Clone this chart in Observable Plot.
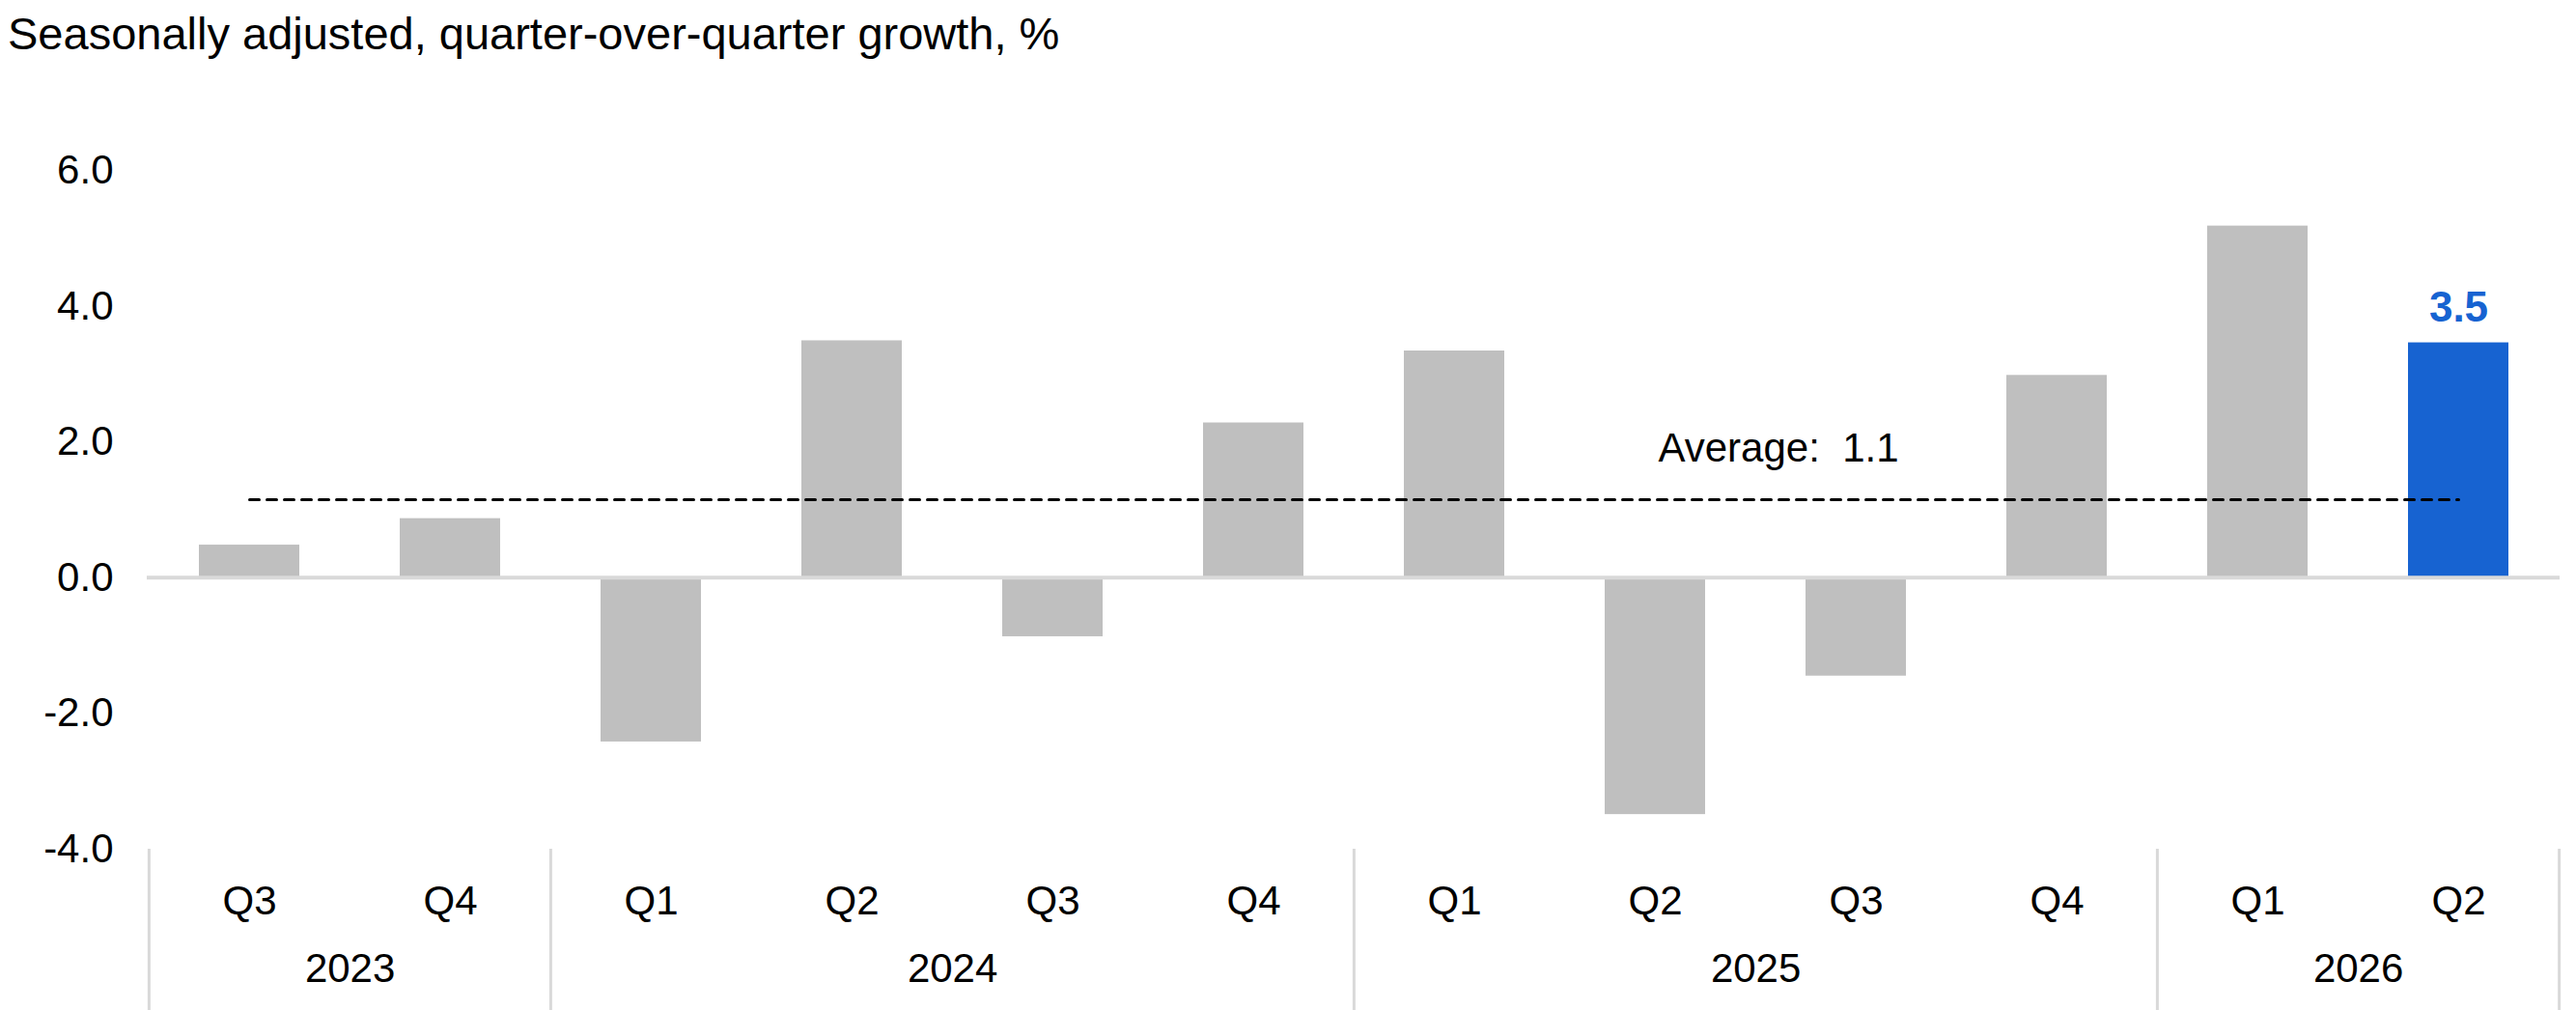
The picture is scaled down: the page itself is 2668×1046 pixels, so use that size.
<!DOCTYPE html>
<html><head><meta charset="utf-8">
<script src="https://cdn.jsdelivr.net/npm/d3@7"></script>
<script src="https://cdn.jsdelivr.net/npm/@observablehq/plot@0.6"></script>
<style>
body{margin:0;background:#fff;font-family:"Liberation Sans",Arial,sans-serif;}
#title{height:70px;font-size:47px;line-height:70px;padding-left:8px;color:#000;}
</style></head><body>
<div id="title">Seasonally adjusted, quarter-over-quarter growth, %</div>
<div id="chart"></div>
<script>
const quarters = ["Q3","Q4","Q1","Q2","Q3","Q4","Q1","Q2","Q3","Q4","Q1","Q2"];
const years = ["2023","2023","2024","2024","2024","2024","2025","2025","2025","2025","2026","2026"];
const values = [0.48,0.87,-2.42,3.49,-0.87,2.28,3.34,-3.49,-1.45,2.98,5.18,3.46];
const average = 1.15;
const yTicks = [-4,-2,0,2,4,6];

const data = quarters.map((q,i)=>({key: years[i]+" "+q, q, year: years[i], v: values[i], last: i===quarters.length-1}));
const keys = data.map(d=>d.key);
const step = (2651-152)/12;
const yearCenters = [{k:keys[0],y:"2023"},{k:keys[3],y:"2024"},{k:keys[7],y:"2025"},{k:keys[10],y:"2026"}];
const seps = [keys[0],keys[2],keys[6],keys[10]];

const chart = Plot.plot({
  width: 2668, height: 976,
  marginLeft: 152, marginRight: 17, marginTop: 106, marginBottom: 167,
  style: {fontFamily: '"Liberation Sans",Arial,sans-serif', fontSize: "42px", background:"#fff"},
  x: {domain: keys, paddingInner: 0.5, paddingOuter: 0.25, axis: null},
  y: {domain: [-4,6], axis: null},
  marks: [
    Plot.barY(data, {x:"key", y:"v", fill: d=>d.last?"#1763d1":"#bfbfbf"}),
    Plot.ruleY([0], {stroke:"#d9d9d9", strokeWidth:4}),
    Plot.lineY(keys, {x: d=>d, y: ()=>average, stroke:"#000", strokeWidth:3, strokeDasharray:"10,8"}),
    Plot.text([keys[7]], {x:d=>d, y:()=>1.9, text:()=>"Average:  1.1", textAnchor:"start", dx:3, fontSize:42}),
    Plot.text(data.filter(d=>d.last), {x:"key", y:"v", text:d=>d3.format(".1f")(d.v), dy:-36, fill:"#1763d1", fontWeight:"bold", fontSize:44}),
    Plot.text(yTicks, {y:d=>d, text:d=>d3.format(".1f")(d).replace("−","-"), textAnchor:"end", frameAnchor:"left", dx:-35, fontSize:42}),
    Plot.text(data, {x:"key", y:()=>-4, text:"q", dy:54, fontSize:42}),
    Plot.text(yearCenters, {x:"k", y:()=>-4, text:"y", dx: step/2, dy:124, fontSize:42}),
    Plot.ruleX(seps, {x:d=>d, y1:-4, y2:-6.4, dx:-step/2, stroke:"#d9d9d9", strokeWidth:3}),
    Plot.ruleX([keys[11]], {x:d=>d, y1:-4, y2:-6.4, dx:step/2, stroke:"#d9d9d9", strokeWidth:3})
  ]
});
document.getElementById("chart").appendChild(chart);
</script></body></html>
